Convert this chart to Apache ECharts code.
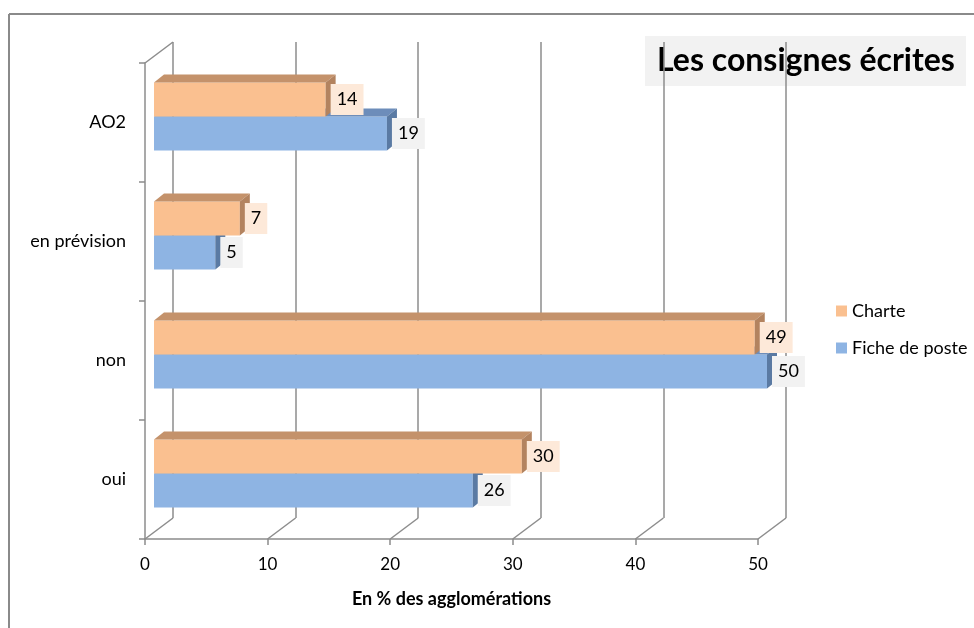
<!DOCTYPE html>
<html>
<head>
<meta charset="utf-8">
<script src="https://cdn.jsdelivr.net/npm/echarts@6/dist/echarts.min.js"></script>
<style>
  html, body { margin: 0; padding: 0; background: #fff; }
  #main { width: 974px; height: 628px; }
</style>
</head>
<body>
<div id="main"></div>
<script>
var categories = ['oui', 'non', 'en prévision', 'AO2'];
var charte = [30, 49, 7, 14];
var ficheDePoste = [26, 50, 5, 19];
var xTicks = [0, 10, 20, 30, 40, 50];

var FONT = 'Lato, "Open Sans", sans-serif';
var GRID_COLOR = '#8c8c8c';
var DX = 28, DY = -21;          // offset of the back wall
var BDX = 10, BDY = -8;         // depth of a bar

function toPairs(values) {
    return values.map(function (v, i) { return [v, i]; });
}

// draws one 3d looking bar: front face, top face, right face, label
function barRenderer(upper, front, top, side, labelBg) {
    return function (params, api) {
        var cat = api.value(1), val = api.value(0);
        var start = api.coord([0, cat]);
        var end = api.coord([val, cat]);
        var band = api.size([0, 1])[1];
        var h = band * 0.285;
        var cy = start[1] - 6;
        var x0 = start[0] + 9, x1 = end[0] + 9;
        var y0 = upper ? cy - h : cy;
        var y1 = y0 + h;
        return {
            type: 'group',
            children: [
                { type: 'rect', shape: { x: x0, y: y0, width: x1 - x0, height: h }, style: { fill: front } },
                { type: 'polygon', shape: { points: [[x0, y0], [x1, y0], [x1 + BDX, y0 + BDY], [x0 + BDX, y0 + BDY]] }, style: { fill: top } },
                { type: 'polygon', shape: { points: [[x1, y0], [x1 + BDX, y0 + BDY], [x1 + BDX, y1 + BDY], [x1, y1]] }, style: { fill: side } },
                {
                    type: 'text', x: x1 + 5, y: (y0 + y1) / 2, z2: 10,
                    style: {
                        text: String(val), fill: '#000', font: '18px ' + FONT,
                        align: 'left', verticalAlign: 'middle',
                        backgroundColor: labelBg, padding: [7, 6, 6, 6]
                    }
                }
            ]
        };
    };
}

// floor diagonals and the top edge of the side wall
function wallRenderer(params, api) {
    var cs = params.coordSys;
    var x = api.coord([api.value(0), 0])[0];
    var bottom = cs.y + cs.height;
    var children = [
        { type: 'line', shape: { x1: x, y1: bottom, x2: x + DX, y2: bottom + DY }, style: { stroke: GRID_COLOR, lineWidth: 1.5 } }
    ];
    if (params.dataIndex === 0) {
        children.push({ type: 'line', shape: { x1: cs.x, y1: cs.y, x2: cs.x + DX, y2: cs.y + DY }, style: { stroke: GRID_COLOR, lineWidth: 1.5 } });
    }
    return { type: 'group', children: children };
}

var myChart = echarts.init(document.getElementById('main'));
var option = {
    animation: false,
    textStyle: { fontFamily: FONT },
    grid: [
        { left: 145, top: 63, width: 613, height: 476 },
        { left: 145 + DX, top: 63 + DY, width: 613, height: 476 }
    ],
    legend: {
        data: ['Charte', 'Fiche de poste'],
        orient: 'vertical',
        left: 831,
        top: 296,
        icon: 'rect',
        itemWidth: 11,
        itemHeight: 11,
        itemGap: 17,
        textStyle: { fontSize: 18, color: '#000', lineHeight: 20, fontFamily: FONT }
    },
    xAxis: [
        {
            gridIndex: 0, type: 'value', min: 0, max: 50, interval: 10,
            axisLine: { show: true, lineStyle: { color: GRID_COLOR, width: 1.5 } },
            axisTick: { show: true, length: 6, lineStyle: { color: GRID_COLOR, width: 1.5 } },
            axisLabel: { fontSize: 17, color: '#000', margin: 17 },
            splitLine: { show: false },
            name: 'En % des agglomérations',
            nameLocation: 'middle',
            nameGap: 51,
            nameTextStyle: { fontSize: 18, fontWeight: 'bold', color: '#000' }
        },
        {
            gridIndex: 1, type: 'value', min: 0, max: 50, interval: 10,
            axisLine: { show: false }, axisTick: { show: false }, axisLabel: { show: false },
            splitLine: { show: true, lineStyle: { color: GRID_COLOR, width: 1.5 } }
        }
    ],
    yAxis: [
        {
            gridIndex: 0, type: 'category', data: categories,
            axisLine: { show: true, lineStyle: { color: GRID_COLOR, width: 1.5 } },
            axisTick: { show: true, length: 6, lineStyle: { color: GRID_COLOR, width: 1.5 } },
            axisLabel: { fontSize: 18, color: '#000', margin: 19 },
            splitLine: { show: false }
        },
        {
            gridIndex: 1, type: 'value', min: 0, max: 1, show: false
        }
    ],
    graphic: [
        { type: 'line', shape: { x1: 9, y1: 14, x2: 974, y2: 14 }, style: { stroke: '#8a8a8a', lineWidth: 2 } },
        { type: 'line', shape: { x1: 9, y1: 14, x2: 9, y2: 628 }, style: { stroke: '#8a8a8a', lineWidth: 2 } },
        { type: 'rect', shape: { x: 645, y: 36, width: 321, height: 50 }, style: { fill: '#f2f2f2' } },
        {
            type: 'text', x: 806, y: 61,
            style: { text: 'Les consignes écrites', font: 'bold 32px ' + FONT, fill: '#000', align: 'center', verticalAlign: 'middle' }
        }
    ],
    series: [
        {
            name: 'walls',
            type: 'custom',
            xAxisIndex: 0, yAxisIndex: 0,
            silent: true,
            z: 1,
            data: xTicks.map(function (v) { return [v, 0]; }),
            renderItem: wallRenderer
        },
        {
            name: 'Fiche de poste',
            type: 'custom',
            xAxisIndex: 0, yAxisIndex: 0,
            itemStyle: { color: '#8eb4e3' },
            encode: { x: 0, y: 1 },
            data: toPairs(ficheDePoste),
            renderItem: barRenderer(false, '#8eb4e3', '#6d8dba', '#5a7aa3', '#f2f2f2')
        },
        {
            name: 'Charte',
            type: 'custom',
            xAxisIndex: 0, yAxisIndex: 0,
            itemStyle: { color: '#fac090' },
            encode: { x: 0, y: 1 },
            data: toPairs(charte),
            renderItem: barRenderer(true, '#fac090', '#c4926b', '#b3835f', '#fde9d9')
        }
    ]
};

myChart.setOption(option);
</script>
</body>
</html>
